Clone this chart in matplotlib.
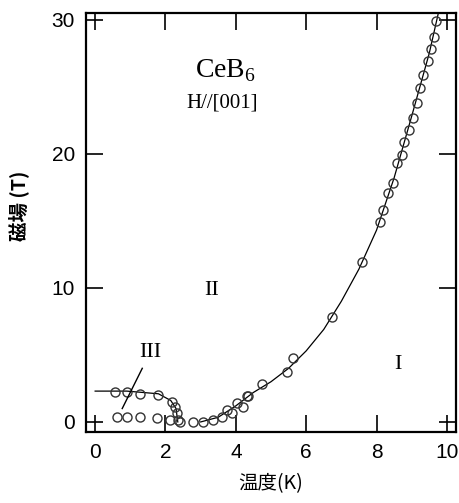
import matplotlib.pyplot as plt
import numpy as np

plt.rcParams['font.family'] = ['Liberation Serif', 'DejaVu Serif']
plt.rcParams['mathtext.fontset'] = 'custom'
plt.rcParams['mathtext.rm'] = 'Liberation Serif'

# boundary I-II (open symbols)
t12 = [3.35, 3.6, 3.75, 3.9, 4.03, 4.2, 4.32, 4.35, 4.74, 5.45, 5.63, 6.73, 7.58,
       8.10, 8.18, 8.32, 8.47, 8.58, 8.72, 8.78, 8.92, 9.03, 9.15, 9.23, 9.32,
       9.46, 9.55, 9.63, 9.69]
h12 = [0.15, 0.4, 0.9, 0.7, 1.4, 1.1, 1.9, 1.9, 2.8, 3.7, 4.8, 7.8, 11.9,
       14.9, 15.8, 17.1, 17.8, 19.3, 19.9, 20.9, 21.8, 22.7, 23.8, 24.9, 25.9,
       26.9, 27.8, 28.7, 29.9]

# boundary III-II
t32 = [0.57, 0.9, 1.28, 1.8, 2.18, 2.27, 2.33, 2.36]
h32 = [2.2, 2.2, 2.1, 2.0, 1.5, 1.1, 0.7, 0.15]

# boundary III-I
t31 = [0.62, 0.9, 1.28, 1.76, 2.13, 2.4, 2.78, 3.07]
h31 = [0.4, 0.4, 0.4, 0.3, 0.15, 0.0, 0.0, 0.0]

# guide lines
line_t = [3.0, 3.5, 4.0, 4.5, 5.0, 5.5, 6.0, 6.5, 7.0, 7.5, 8.0, 8.5, 9.0, 9.5, 9.75]
line_h = [0.0, 0.35, 1.2, 2.2, 3.0, 4.0, 5.3, 6.9, 9.0, 11.4, 14.3, 18.2, 22.8, 27.5, 30.4]
line3_t = [0.0, 0.9, 1.8, 2.15, 2.3, 2.35]
line3_h = [2.3, 2.3, 2.1, 1.6, 1.0, 0.0]

fig = plt.figure(figsize=(4.59, 5.03), dpi=100)
ax = fig.add_axes([86/459, 1-432/503, 370/459, 419/503])

ax.plot(line_t, line_h, 'k-', linewidth=0.9)
ax.plot(line3_t, line3_h, 'k-', linewidth=0.9)
for t, h in [(t12, h12), (t32, h32), (t31, h31)]:
    ax.plot(t, h, 'o', markersize=6.5, markerfacecolor='none',
            markeredgecolor='#333333', markeredgewidth=1.0)

ax.plot([0.77, 1.34], [1.0, 4.0], 'k-', linewidth=1.0)

ax.text(3.7, 26.2, r'CeB$_6$', fontsize=20, ha='center', va='center')
ax.text(3.6, 23.8, 'H//[001]', fontsize=15, ha='center', va='center')
ax.text(3.3, 9.8, 'II', fontsize=16, ha='center', va='center')
ax.text(8.6, 4.3, 'I', fontsize=16, ha='center', va='center')
ax.text(1.56, 5.2, 'III', fontsize=16, ha='center', va='center')

ax.set_xlim(-0.26, 10.26)
ax.set_ylim(-0.75, 30.5)
ax.set_xticks([0, 2, 4, 6, 8, 10])
ax.set_yticks([0, 10, 20, 30])
ax.tick_params(direction='in', length=12, width=1.2, top=True, right=True,
               labelsize=15, pad=8)
for lab in ax.get_xticklabels() + ax.get_yticklabels():
    lab.set_family(['Liberation Sans', 'DejaVu Sans'])
for s in ax.spines.values():
    s.set_linewidth(1.6)

ax.set_xlabel('温度(K)', family=['Noto Sans CJK JP', 'DejaVu Sans'], fontsize=14, labelpad=8)
ax.set_ylabel('磁場 (T)', family=['Noto Sans CJK JP', 'DejaVu Sans'], fontsize=14,
              fontweight='bold')
ax.yaxis.set_label_coords(-0.155, 0.54)

fig.savefig('out.png', dpi=100)
